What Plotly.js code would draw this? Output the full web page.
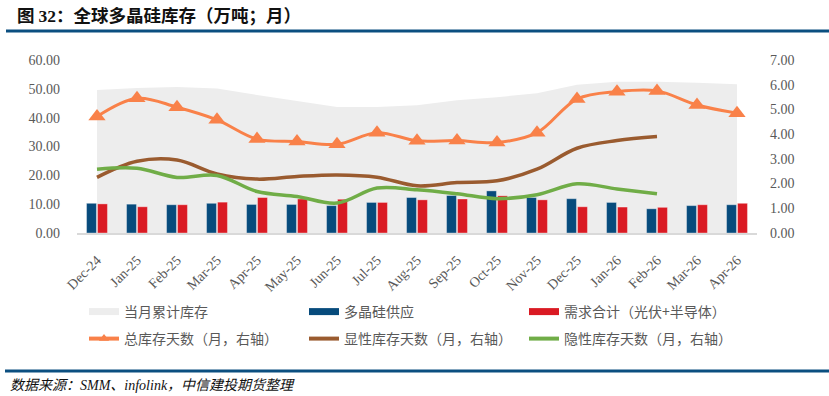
<!DOCTYPE html>
<html><head><meta charset="utf-8">
<script src="https://cdn.plot.ly/plotly-3.0.1.min.js"></script>
<style>html,body{margin:0;padding:0;background:#fff}#chart{width:829px;height:396px}</style>
</head><body><div id="chart"></div>
<script>
// ---- data ----
const months = ['Dec-24','Jan-25','Feb-25','Mar-25','Apr-25','May-25','Jun-25','Jul-25','Aug-25','Sep-25','Oct-25','Nov-25','Dec-25','Jan-26','Feb-26','Mar-26','Apr-26'];
const cumulativeInventory = [49.6, 50.3, 50.6, 50.1, 47.9, 45.9, 43.7, 43.7, 44.3, 46.0, 47.1, 48.5, 51.4, 52.5, 52.5, 52.1, 51.6]; // 万吨, left axis
const polysiliconSupply   = [10.3, 10.0, 9.8, 10.3, 9.9, 9.9, 9.5, 10.6, 12.3, 13.0, 14.6, 12.3, 11.9, 10.6, 8.4, 9.5, 9.8];
const totalDemand         = [10.1, 9.1, 9.8, 10.7, 12.3, 11.8, 11.7, 10.6, 11.5, 11.8, 12.9, 11.5, 9.1, 9.0, 8.9, 9.8, 10.3];
const totalInvMonths      = [4.71, 5.45, 5.09, 4.58, 3.80, 3.70, 3.59, 4.06, 3.73, 3.74, 3.66, 4.06, 5.42, 5.72, 5.75, 5.18, 4.85]; // right axis
const explicitInvMonths   = [2.25, 2.90, 2.95, 2.39, 2.18, 2.29, 2.35, 2.26, 1.91, 2.04, 2.11, 2.58, 3.43, 3.74, 3.90];
const hiddenInvMonths     = [2.58, 2.62, 2.25, 2.33, 1.68, 1.48, 1.21, 1.82, 1.75, 1.59, 1.39, 1.55, 1.99, 1.78, 1.59];
const leftTicks  = [0, 10, 20, 30, 40, 50, 60];
const rightTicks = [0, 1, 2, 3, 4, 5, 6, 7];
const names = ['当月累计库存','多晶硅供应','需求合计（光伏+半导体）','总库存天数（月，右轴）','显性库存天数（月，右轴）','隐性库存天数（月，右轴）'];

// ---- geometry ----
const W = 829, H = 396, ML = 77, MR = 72, MT = 60, MB = 163;
const PW = W - ML - MR, PH = H - MT - MB;
const px2x = p => (p - ML) / PW;
const px2y = p => (H - MB - p) / PH;

const C = {area:'#ededed', blue:'#074b7c', red:'#da1a23', orange:'#f98149', brown:'#9a5b2f', green:'#70ad47', tick:'#595959'};
const serif = 'Liberation Serif, Times New Roman, serif';
const cjk = 'Noto Sans CJK SC, sans-serif';

const traces = [
  {type:'scatter', x:months, y:cumulativeInventory, mode:'lines', fill:'tozeroy', fillcolor:C.area,
   line:{width:0, color:C.area}, xaxis:'x', yaxis:'y', showlegend:false, hoverinfo:'skip'},
  {type:'bar', x:months, y:polysiliconSupply, marker:{color:C.blue, line:{width:0.8, color:'rgba(255,255,255,0.45)'}},
   xaxis:'x', yaxis:'y2', showlegend:false},
  {type:'bar', x:months, y:totalDemand, marker:{color:C.red, line:{width:0.8, color:'rgba(255,255,255,0.45)'}},
   xaxis:'x', yaxis:'y2', showlegend:false},
  {type:'scatter', x:months, y:totalInvMonths, mode:'lines+markers', line:{color:C.orange, width:3, shape:'spline', smoothing:1},
   marker:{symbol:'triangle-up', size:15, color:C.orange}, xaxis:'x', yaxis:'y3', showlegend:false},
  {type:'scatter', x:months.slice(0, explicitInvMonths.length), y:explicitInvMonths, mode:'lines', line:{color:C.brown, width:3.5, shape:'spline', smoothing:1},
   xaxis:'x', yaxis:'y3', showlegend:false},
  {type:'scatter', x:months.slice(0, hiddenInvMonths.length), y:hiddenInvMonths, mode:'lines', line:{color:C.green, width:3.5, shape:'spline', smoothing:1},
   xaxis:'x', yaxis:'y3', showlegend:false},
  // legend entries
  {type:'scatter', x:[months[0]], y:[null], mode:'lines', line:{color:C.area, width:7}, name:names[0], legend:'legend', xaxis:'x', yaxis:'y3'},
  {type:'scatter', x:[months[0]], y:[null], mode:'lines', line:{color:C.blue, width:7}, name:names[1], legend:'legend', xaxis:'x', yaxis:'y3'},
  {type:'scatter', x:[months[0]], y:[null], mode:'lines', line:{color:C.red, width:7}, name:names[2], legend:'legend', xaxis:'x', yaxis:'y3'},
  {type:'scatter', x:[months[0]], y:[null], mode:'lines+markers', line:{color:C.orange, width:4}, marker:{symbol:'triangle-up', size:9, color:C.orange}, name:names[3], legend:'legend2', xaxis:'x', yaxis:'y3'},
  {type:'scatter', x:[months[0]], y:[null], mode:'lines', line:{color:C.brown, width:4}, name:names[4], legend:'legend2', xaxis:'x', yaxis:'y3'},
  {type:'scatter', x:[months[0]], y:[null], mode:'lines', line:{color:C.green, width:4}, name:names[5], legend:'legend2', xaxis:'x', yaxis:'y3'}
];

const legendCommon = {orientation:'h', xref:'container', yref:'container', xanchor:'left', yanchor:'top',
  x:84/W, entrywidth:175, itemwidth:30, font:{family:cjk, size:14, color:'#595959'}, bgcolor:'rgba(0,0,0,0)', traceorder:'normal'};

const layout = {
  width:W, height:H, margin:{l:ML, r:MR, t:MT, b:MB, pad:0},
  paper_bgcolor:'#fff', plot_bgcolor:'rgba(0,0,0,0)',
  barmode:'group', bargap:0.45, bargroupgap:0.1,
  title:{text:'图 <b><span style="font-family:Liberation Serif">32</span></b>：全球多晶硅库存（万吨；月）',
    xref:'container', yref:'container', x:17/W, xanchor:'left', y:1-16/H, yanchor:'middle',
    font:{family:cjk, size:17.5, color:'#111', weight:'bold'}},
  xaxis:{type:'category', range:[-0.5, months.length-0.5], showline:true, linecolor:'#d9d9d9', linewidth:1.5,
    ticks:'', tickangle:-45, tickfont:{family:serif, size:14, color:C.tick}, showgrid:false, zeroline:false, ticklabelstandoff:12},
  yaxis:{range:[0,60], tickvals:leftTicks, tickformat:'.2f', showgrid:false, zeroline:false, ticks:'',
    tickfont:{family:serif, size:14, color:C.tick}, ticklabelstandoff:16},
  yaxis2:{overlaying:'y', range:[0,60], visible:false},
  yaxis3:{overlaying:'y', side:'right', range:[0,7], tickvals:rightTicks, tickformat:'.2f', showgrid:false, zeroline:false, ticks:'',
    tickfont:{family:serif, size:14, color:C.tick}, ticklabelstandoff:12},
  legend:Object.assign({}, legendCommon, {y:1-296/H}),
  legend2:Object.assign({}, legendCommon, {y:1-323/H}),
  shapes:[
    {type:'line', xref:'paper', yref:'paper', x0:px2x(6), x1:px2x(829), y0:px2y(31), y1:px2y(31), line:{color:'#0b4f80', width:3}},
    {type:'line', xref:'paper', yref:'paper', x0:px2x(5), x1:px2x(829), y0:px2y(371), y1:px2y(371), line:{color:'#0b4f80', width:3}}
  ],
  annotations:[
    {xref:'paper', yref:'paper', x:px2x(8), y:px2y(385), xanchor:'left', yanchor:'middle', showarrow:false,
     text:'<i>数据来源：SMM、infolink，中信建投期货整理</i>', font:{family:'Liberation Serif, Noto Sans CJK SC', size:14, color:'#111'}}
  ]
};

Plotly.newPlot('chart', traces, layout, {staticPlot:true});
</script></body></html>
